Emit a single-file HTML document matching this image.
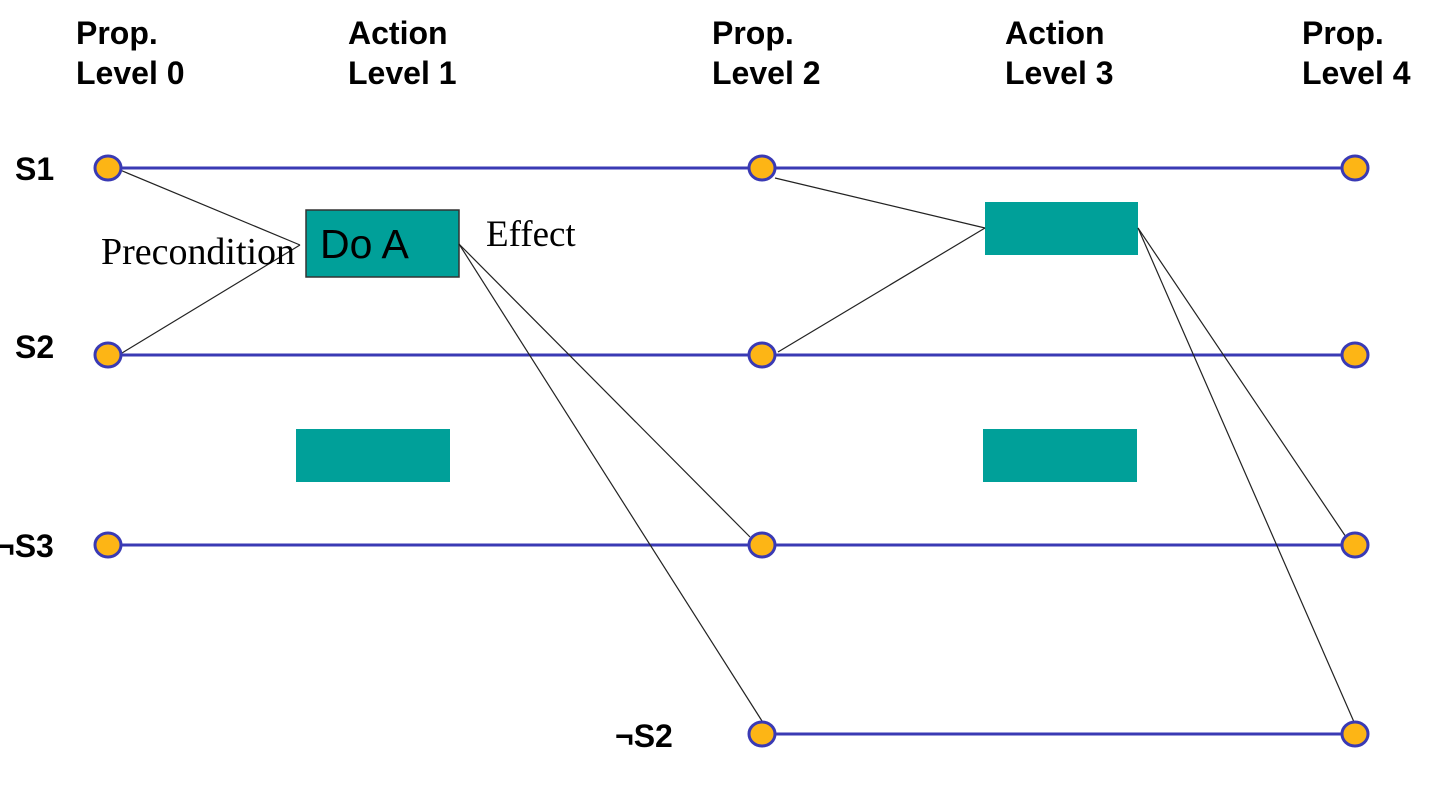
<!DOCTYPE html>
<html><head><style>body{margin:0;background:#fff}</style></head><body>
<svg width="1436" height="796" xmlns="http://www.w3.org/2000/svg">
<g font-family="Liberation Sans, sans-serif" font-weight="bold" font-size="32" fill="#000">
<text x="76" y="44">Prop.</text><text x="76" y="84">Level 0</text>
<text x="348" y="44">Action</text><text x="348" y="84">Level 1</text>
<text x="712" y="44">Prop.</text><text x="712" y="84">Level 2</text>
<text x="1005" y="44">Action</text><text x="1005" y="84">Level 3</text>
<text x="1302" y="44">Prop.</text><text x="1302" y="84">Level 4</text>
<text x="15" y="180">S1</text><text x="15" y="358">S2</text>
<text x="-4" y="557">¬S3</text><text x="615" y="747">¬S2</text>
</g>
<g stroke="#3a3ab4" stroke-width="3">
<line x1="108" y1="168" x2="1355" y2="168"/>
<line x1="108" y1="355" x2="1355" y2="355"/>
<line x1="108" y1="545" x2="1355" y2="545"/>
<line x1="762" y1="734" x2="1355" y2="734"/>
</g>
<g fill="#00a099" stroke="#333" stroke-width="1.5">
<rect x="306" y="210" width="153" height="67"/>
<rect x="296" y="429" width="154" height="53" stroke="none"/>
<rect x="985" y="202" width="153" height="53" stroke="none"/>
<rect x="983" y="429" width="154" height="53" stroke="none"/>
</g>
<g stroke="#222" stroke-width="1.2" fill="none">
<line x1="120" y1="170" x2="300" y2="245"/>
<line x1="122" y1="353" x2="300" y2="245"/>
<line x1="459" y1="244" x2="750" y2="537"/>
<line x1="459" y1="244" x2="762" y2="721"/>
<line x1="775" y1="178" x2="985" y2="228"/>
<line x1="778" y1="352" x2="985" y2="228"/>
<line x1="1138" y1="228" x2="1346" y2="537"/>
<line x1="1138" y1="228" x2="1354" y2="722"/>
</g>
<g fill="#fdb515" stroke="#3a3ab4" stroke-width="3">
<ellipse cx="108" cy="168" rx="13" ry="12"/><ellipse cx="108" cy="355" rx="13" ry="12"/><ellipse cx="108" cy="545" rx="13" ry="12"/>
<ellipse cx="762" cy="168" rx="13" ry="12"/><ellipse cx="762" cy="355" rx="13" ry="12"/><ellipse cx="762" cy="545" rx="13" ry="12"/><ellipse cx="762" cy="734" rx="13" ry="12"/>
<ellipse cx="1355" cy="168" rx="13" ry="12"/><ellipse cx="1355" cy="355" rx="13" ry="12"/><ellipse cx="1355" cy="545" rx="13" ry="12"/><ellipse cx="1355" cy="734" rx="13" ry="12"/>
</g>
<text x="101" y="264" font-family="Liberation Serif, serif" font-size="38" textLength="194">Precondition</text>
<text x="486" y="246" font-family="Liberation Serif, serif" font-size="37">Effect</text>
<text x="320" y="258" font-family="Liberation Sans, sans-serif" font-size="41">Do A</text>
</svg>
</body></html>
